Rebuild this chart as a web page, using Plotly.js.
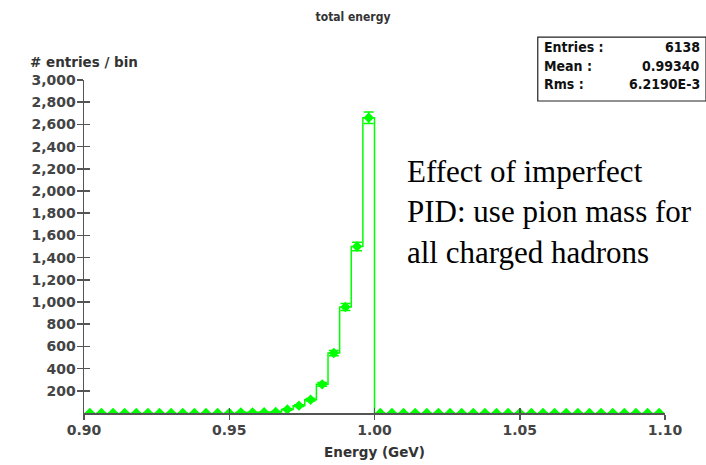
<!DOCTYPE html>
<html>
<head>
<meta charset="utf-8">
<script src="https://cdn.plot.ly/plotly-3.0.1.min.js"></script>
<style>
  html, body { margin: 0; padding: 0; background: #fff; }
  #chart { width: 706px; height: 465px; }
</style>
</head>
<body>
<div id="chart"></div>
<script>
// Histogram of reconstructed total energy, 50 bins of 0.004 GeV from 0.90 to 1.10
const binLow = 0.90;
const binWidth = 0.004;
const nBins = 50;

// Non-empty bins, given by their lower edges (GeV) and entry counts
const filledEdges  = [0.952, 0.956, 0.960, 0.964, 0.968, 0.972, 0.976, 0.980, 0.984, 0.988, 0.992, 0.996];
const filledCounts = [5,     5,     7,     10,    32,    66,    120,   258,   540,   955,   1500,  2660];

// Statistics box contents
const statLabels = ['Entries :', 'Mean :', 'Rms :'];
const statValues = ['6138', '0.99340', '6.2190E-3'];

// Axis ticks
const yTicks = [200, 400, 600, 800, 1000, 1200, 1400, 1600, 1800, 2000, 2200, 2400, 2600, 2800, 3000];
const xTicks = [0.90, 0.95, 1.00, 1.05, 1.10];

// Full set of bins: centres and counts (empty where not filled)
const centres = [];
const counts = [];
for (let i = 0; i < nBins; i++) {
  const lo = +(binLow + i * binWidth).toFixed(3);
  centres.push(+(lo + binWidth / 2).toFixed(3));
  const k = filledEdges.findIndex(e => Math.abs(e - lo) < 1e-9);
  counts.push(k >= 0 ? filledCounts[k] : 0);
}
const errors = counts.map(c => c > 0 ? Math.sqrt(c) : null);

// Step outline over the filled bins, closed down to zero at the upper edge
const lastEdge = +(filledEdges[filledEdges.length - 1] + binWidth).toFixed(3);
const outlineX = filledEdges.concat([lastEdge, lastEdge]);
const outlineY = filledCounts.concat([filledCounts[filledCounts.length - 1], 0]);

const green = 'rgb(0,255,0)';
const axisColor = '#555';
const labelFont = { family: 'DejaVu Sans', size: 14, color: '#444', weight: 'bold' };
const titleFont = { family: 'DejaVu Sans', size: 13.5, color: '#333', weight: 'bold' };
const statFont = { family: 'DejaVu Sans Condensed, DejaVu Sans', size: 14, color: '#111', weight: 'bold' };

const traces = [
  {
    type: 'scatter', mode: 'lines',
    x: outlineX, y: outlineY,
    line: { color: green, width: 1.5, shape: 'hv' },
    hoverinfo: 'skip', showlegend: false
  },
  {
    type: 'scatter', mode: 'markers',
    x: centres, y: counts,
    marker: { symbol: 'diamond', size: 8, color: green },
    error_y: { type: 'data', array: errors, visible: true, color: green, thickness: 1.5, width: 5 },
    showlegend: false
  },
  // empty companion so the overlaid tick axes are drawn
  { type: 'scatter', mode: 'markers', x: [], y: [], xaxis: 'x2', yaxis: 'y2', showlegend: false, hoverinfo: 'skip' }
];

// Stats box text rows
const rowY = [1.099, 1.043, 0.988];
const annotations = [];
statLabels.forEach((t, i) => {
  annotations.push({ xref: 'paper', yref: 'paper', x: 0.788, y: rowY[i], xanchor: 'left', yanchor: 'middle',
    text: t, showarrow: false, font: statFont });
  annotations.push({ xref: 'paper', yref: 'paper', x: 1.063, y: rowY[i], xanchor: 'right', yanchor: 'middle',
    text: statValues[i], showarrow: false, font: statFont });
});
annotations.push({ xref: 'paper', yref: 'paper', x: -0.0964, y: 1.054, xanchor: 'left', yanchor: 'middle',
  text: '# entries / bin', showarrow: false, font: titleFont });
annotations.push({ xref: 'paper', yref: 'paper', x: 0.5525, y: 0.6036, xanchor: 'left', yanchor: 'middle', align: 'left',
  text: 'Effect of imperfect<br>PID: use pion mass for<br>all charged hadrons', showarrow: false,
  font: { family: 'Liberation Serif, Times New Roman, serif', size: 31, color: '#000' } });

const baseX = {
  range: [0.90, 1.10], tickvals: xTicks, ticktext: xTicks.map(v => v.toFixed(2)),
  showgrid: false, zeroline: false, showline: true, linecolor: axisColor, linewidth: 1.5,
  tickcolor: axisColor, tickwidth: 1.5
};
const baseY = {
  range: [0, 3000], tickvals: yTicks, ticktext: yTicks.map(v => v.toLocaleString('en-US')),
  showgrid: false, zeroline: false, showline: true, linecolor: axisColor, linewidth: 1.5,
  tickcolor: axisColor, tickwidth: 1.5
};

const layout = {
  width: 706, height: 465,
  margin: { l: 84, r: 41, t: 80, b: 52 },
  paper_bgcolor: '#fff', plot_bgcolor: '#fff',
  title: { text: 'total energy', x: 0.5, xref: 'container', y: 0.963, yanchor: 'middle',
    font: { family: 'DejaVu Sans Condensed, DejaVu Sans', size: 12, color: '#333', weight: 'bold' } },
  xaxis: Object.assign({}, baseX, {
    ticks: 'outside', ticklen: 5, tickfont: labelFont, ticklabelstandoff: -1,
    title: { text: 'Energy (GeV)', font: titleFont, standoff: 10 }
  }),
  yaxis: Object.assign({}, baseY, { ticks: 'outside', ticklen: 6, tickfont: labelFont, ticklabelstandoff: -2 }),
  // inner halves of the crossing tick marks
  xaxis2: Object.assign({}, baseX, { overlaying: 'x', anchor: 'y2', ticks: 'inside', ticklen: 5, showticklabels: false }),
  yaxis2: Object.assign({}, baseY, { overlaying: 'y', anchor: 'x2', ticks: 'inside', ticklen: 6, showticklabels: false }),
  shapes: [{
    type: 'rect', xref: 'paper', yref: 'paper', x0: 0.781, x1: 1.0706, y0: 0.937, y1: 1.129,
    line: { color: '#222', width: 1.2 }, fillcolor: 'rgba(0,0,0,0)'
  }],
  annotations: annotations
};

Plotly.newPlot('chart', traces, layout, { displayModeBar: false, staticPlot: true });
</script>
</body>
</html>
